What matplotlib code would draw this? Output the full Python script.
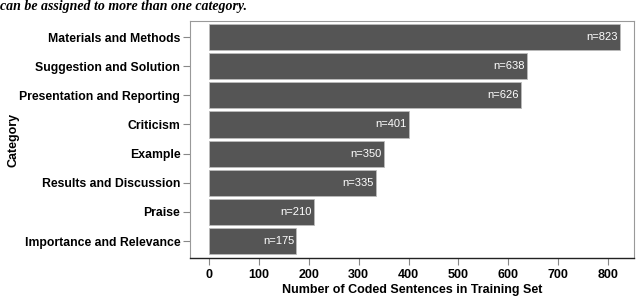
import matplotlib
matplotlib.use("Agg")
import matplotlib.pyplot as plt

categories = ["Materials and Methods", "Suggestion and Solution", "Presentation and Reporting",
              "Criticism", "Example", "Results and Discussion", "Praise", "Importance and Relevance"]
counts = [823, 638, 626, 401, 350, 335, 210, 175]
xticks = [0, 100, 200, 300, 400, 500, 600, 700, 800]

plt.rcParams['font.family'] = ['Liberation Sans', 'DejaVu Sans']

fig = plt.figure(figsize=(6.4, 2.96), dpi=100)
ax = fig.add_axes([190/640, 1-258/296, (634-190)/640, (258-21)/296])

ypos = list(range(len(categories)))
ax.barh(ypos, counts, height=0.9, color='#555555', edgecolor='#bbbbbb', linewidth=0.6)
for y, c in zip(ypos, counts):
    ax.text(c - 4, y, f"n={c}", color='white', ha='right', va='center', fontsize=8)

ax.set_ylim(7.58, -0.55)
ax.set_xlim(-38, 852)
ax.set_yticks(ypos)
ax.set_yticklabels(categories, fontsize=8.8, fontweight='bold')
ax.set_xticks(xticks)
ax.set_xticklabels([str(t) for t in xticks], fontsize=9, fontweight='bold')
ax.tick_params(axis='y', length=5, width=0.8, color='#888888', pad=2)
ax.tick_params(axis='x', length=5, width=0.8, color='#888888', pad=3)
for s in ['left', 'top', 'right']:
    ax.spines[s].set_color('#999999')
    ax.spines[s].set_linewidth(0.8)
ax.spines['bottom'].set_color('#222222')
ax.spines['bottom'].set_linewidth(1.0)

ax.set_xlabel("Number of Coded Sentences in Training Set", fontsize=9, fontweight='bold')
ax.xaxis.set_label_coords(0.5, -0.11)
ax.set_ylabel("Category", fontsize=9, fontweight='bold')
ax.yaxis.set_label_coords(-0.385, 0.5)

fig.text(0.0, 1.0, "can be assigned to more than one category.", fontsize=10, fontweight='bold',
         fontstyle='italic', family=['Liberation Serif'], ha='left', va='top')

fig.savefig("out.png", dpi=100)
